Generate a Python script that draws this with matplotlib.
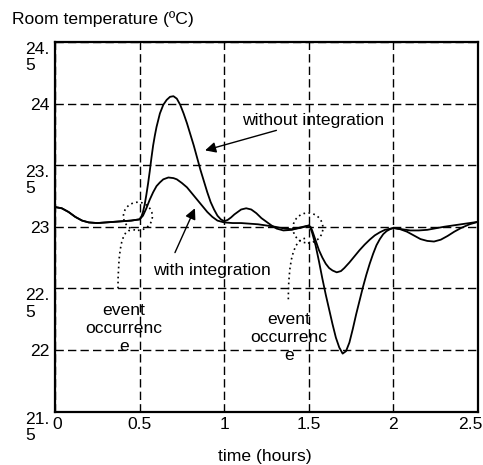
import matplotlib
matplotlib.use("Agg")
import matplotlib.pyplot as plt
from matplotlib.patches import Ellipse, PathPatch
from matplotlib.path import Path
from matplotlib.transforms import ScaledTranslation

plt.rcParams['font.family'] = ['Liberation Sans', 'DejaVu Sans']

# --- data ---
t_without = [0.00, 0.04, 0.08, 0.12, 0.16, 0.20, 0.25, 0.30, 0.35, 0.40, 0.45, 0.50,
             0.51, 0.52, 0.53, 0.54, 0.55, 0.56, 0.57, 0.58, 0.59, 0.60, 0.62, 0.64,
             0.66, 0.68, 0.70, 0.72, 0.74, 0.76, 0.78, 0.80, 0.82, 0.84, 0.86, 0.88,
             0.90, 0.92, 0.94, 0.96, 0.98, 1.00, 1.02, 1.04, 1.06, 1.08, 1.10, 1.13,
             1.16, 1.19, 1.22, 1.25, 1.28, 1.31, 1.35, 1.40, 1.45, 1.50,
             1.51, 1.52, 1.54, 1.56, 1.58, 1.60, 1.62, 1.64, 1.66, 1.68, 1.70, 1.72,
             1.74, 1.76, 1.78, 1.80, 1.82, 1.84, 1.86, 1.88, 1.90, 1.92, 1.94, 1.96,
             1.98, 2.00, 2.04, 2.08, 2.12, 2.16, 2.20, 2.24, 2.28, 2.32, 2.36, 2.40,
             2.45, 2.50]
temp_without = [23.16, 23.15, 23.12, 23.08, 23.05, 23.035, 23.03, 23.035, 23.04, 23.045,
                23.05, 23.06,
                23.08, 23.12, 23.18, 23.26, 23.35, 23.45, 23.56, 23.66, 23.74, 23.81,
                23.92, 23.99, 24.03, 24.055, 24.06, 24.04, 23.99, 23.92, 23.84, 23.75,
                23.66, 23.56, 23.46, 23.37, 23.28, 23.20, 23.14, 23.09, 23.06, 23.045,
                23.055, 23.075, 23.10, 23.12, 23.14, 23.15, 23.14, 23.11, 23.07, 23.04,
                23.01, 22.985, 22.97, 22.975, 22.995, 23.01,
                22.99, 22.95, 22.85, 22.72, 22.58, 22.45, 22.33, 22.21, 22.10, 22.02,
                21.97, 21.99, 22.06, 22.17, 22.29, 22.40, 22.51, 22.61, 22.70, 22.78,
                22.85, 22.90, 22.94, 22.965, 22.98, 22.99, 22.98, 22.96, 22.93, 22.90,
                22.885, 22.88, 22.895, 22.925, 22.96, 22.99, 23.02, 23.04]

t_with = [0.00, 0.04, 0.08, 0.12, 0.16, 0.20, 0.25, 0.30, 0.35, 0.40, 0.45, 0.50,
          0.52, 0.54, 0.56, 0.58, 0.60, 0.62, 0.64, 0.67, 0.70, 0.72, 0.75, 0.78,
          0.81, 0.84, 0.87, 0.90, 0.93, 0.96, 1.00, 1.05, 1.10, 1.20, 1.30, 1.36,
          1.40, 1.45, 1.50,
          1.51, 1.52, 1.54, 1.56, 1.58, 1.60, 1.62, 1.64, 1.665, 1.69, 1.71, 1.74,
          1.77, 1.80, 1.83, 1.86, 1.89, 1.92, 1.95, 2.00, 2.05, 2.10, 2.15, 2.20,
          2.30, 2.40, 2.50]
temp_with = [23.16, 23.15, 23.12, 23.08, 23.05, 23.035, 23.03, 23.035, 23.04, 23.045,
             23.05, 23.06,
             23.09, 23.15, 23.22, 23.28, 23.33, 23.36, 23.385, 23.40, 23.395, 23.385,
             23.355, 23.32, 23.27, 23.22, 23.17, 23.12, 23.08, 23.05, 23.035, 23.03,
             23.03, 23.02, 23.00, 22.985, 22.98, 22.99, 23.01,
             23.00, 22.97, 22.89, 22.81, 22.75, 22.70, 22.665, 22.645, 22.63, 22.64,
             22.665, 22.71, 22.76, 22.81, 22.855, 22.895, 22.93, 22.955, 22.975, 22.99,
             22.98, 22.97, 22.97, 22.975, 23.00, 23.02, 23.04]

x_ticks = [0, 0.5, 1, 1.5, 2, 2.5]
x_tick_labels = ['0', '0.5', '1', '1.5', '2', '2.5']
y_ticks = [21.5, 22, 22.5, 23, 23.5, 24, 24.5]
y_tick_labels = ['21.\n5', '22', '22.\n5', '23', '23.\n5', '24', '24.\n5']

FS = 12.6

fig = plt.figure(figsize=(4.83, 4.65), dpi=100)
ax = fig.add_axes([55/483, 1-411.5/465, (478-55)/483, (411.5-42)/465])

ax.plot(t_without, temp_without, color='black', lw=1.3, zorder=3)
ax.plot(t_with, temp_with, color='black', lw=1.3, zorder=3)

ax.set_xlim(0, 2.5)
ax.set_ylim(21.5, 24.5)
ax.set_xticks(x_ticks)
ax.set_xticklabels(x_tick_labels, fontsize=FS)
ax.set_yticks(y_ticks)
ax.set_yticklabels(y_tick_labels, fontsize=FS)
ax.tick_params(length=0, pad=4)
for lab in ax.get_yticklabels():
    lab.set_multialignment('left')
    lab.set_linespacing(1.1)
    if '\n' in lab.get_text():
        lab.set_verticalalignment('top')
xl = ax.get_xticklabels()
xl[-1].set_transform(xl[-1].get_transform() + ScaledTranslation(-8/100, 0, fig.dpi_scale_trans))
xl[0].set_transform(xl[0].get_transform() + ScaledTranslation(2/100, 0, fig.dpi_scale_trans))
ax.grid(True, color='black', lw=1.0, linestyle=(0, (6, 3)))
for s in ax.spines.values():
    s.set_linewidth(1.6)

# circles marking event occurrence
ax.add_patch(Ellipse((0.49, 23.085), 0.171, 0.228, fill=False, ec='black',
                     lw=1.2, linestyle=(0, (1, 2)), zorder=4))
ax.add_patch(Ellipse((1.495, 22.99), 0.177, 0.244, fill=False, ec='black',
                     lw=1.2, linestyle=(0, (1, 2)), zorder=4))

# dotted leaders
for (a, c, b) in [((0.443, 22.97), (0.372, 22.97), (0.372, 22.48)),
                  ((1.478, 22.906), (1.377, 22.89), (1.379, 22.386))]:
    p = Path([a, c, b], [Path.MOVETO, Path.CURVE3, Path.CURVE3])
    ax.add_patch(PathPatch(p, fill=False, ec='black', lw=1.2,
                           linestyle=(0, (1, 2)), zorder=4))

ax.text(0.408, 22.175, 'event\noccurrenc\ne', ha='center', va='center',
        fontsize=FS, linespacing=1.25)
ax.text(1.383, 22.10, 'event\noccurrenc\ne', ha='center', va='center',
        fontsize=FS, linespacing=1.25)

ax.annotate('without integration', xy=(0.887, 23.62), xytext=(1.105, 23.866),
            ha='left', va='center', fontsize=FS,
            arrowprops=dict(arrowstyle='-|>', color='black', lw=1.0,
                            mutation_scale=16, shrinkA=0, shrinkB=0))
ax.annotate('', xy=(0.827, 23.15), xytext=(0.709, 22.79),
            arrowprops=dict(arrowstyle='-|>', color='black', lw=1.0,
                            mutation_scale=16, shrinkA=0, shrinkB=0))
ax.text(0.579, 22.646, 'with integration', ha='left', va='center', fontsize=FS)

fig.text(12/483, 1-19/465, 'Room temperature (ºC)', ha='left', va='center', fontsize=FS)
fig.text(264.5/483, 1-456.7/465, 'time (hours)', ha='center', va='center', fontsize=FS)

fig.savefig('out.png', dpi=100)
